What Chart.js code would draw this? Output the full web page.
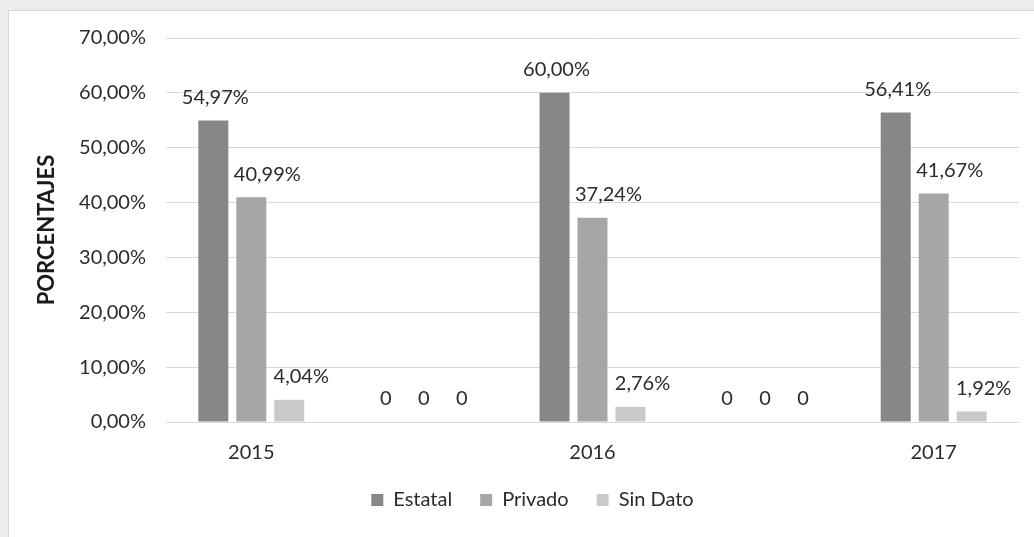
<!DOCTYPE html>
<html>
<head>
<meta charset="utf-8">
<script src="https://cdn.jsdelivr.net/npm/chart.js@4"></script>
<style>
  html, body { margin: 0; padding: 0; background: #eeeded; width: 1034px; height: 537px; overflow: hidden; }
  .card { position: absolute; left: 8px; top: 10px; width: 1025px; height: 526px; background: #fff;
          border-top: 1px solid #d6d6d6; border-left: 1px solid #d6d6d6; }
  canvas { position: absolute; left: 0; top: 0; }
</style>
</head>
<body>
<div class="card"><canvas id="chart" width="1025" height="526"></canvas></div>
<script>
const years = ['2015', '', '2016', '', '2017']
const estatal = [54.97, 0, 60.00, 0, 56.41]
const privado = [40.99, 0, 37.24, 0, 41.67]
const sinDato = [4.04, 0, 2.76, 0, 1.92]
const yTicks = [0, 10, 20, 30, 40, 50, 60, 70]

const textColor = '#2b2b2b'
const fontFamily = 'Lato'

const fmt = (v) => v.toFixed(2).replace('.', ',') + '%'

// labels above bars, Excel style (Privado / Sin Dato labels sit a bit to the right)
const labelShift = [2, 16, 12]
const barLabels = {
    id: 'barLabels',
    afterDatasetsDraw(chart) {
        const ctx = chart.ctx
        ctx.save()
        ctx.font = `20px ${fontFamily}`
        ctx.fillStyle = textColor
        ctx.textAlign = 'center'
        ctx.textBaseline = 'middle'
        chart.data.datasets.forEach((ds, i) => {
            chart.getDatasetMeta(i).data.forEach((bar, j) => {
                const v = ds.data[j]
                const txt = v === 0 ? '0' : fmt(v)
                const dx = v === 0 ? 2 : labelShift[i]
                ctx.fillText(txt, bar.x + dx, bar.y - 23)
            })
        })
        ctx.restore()
    }
}

new Chart(document.getElementById('chart'), {
    type: 'bar',
    data: {
        labels: years,
        datasets: [
            { label: 'Estatal', data: estatal, backgroundColor: '#878787' },
            { label: 'Privado', data: privado, backgroundColor: '#a6a6a6' },
            { label: 'Sin Dato', data: sinDato, backgroundColor: '#c9c9c9' },
        ],
    },
    options: {
        responsive: false,
        animation: false,
        categoryPercentage: 0.668,
        barPercentage: 0.79,
        layout: { padding: { left: 37, right: 15, top: 27, bottom: 17 } },
        plugins: {
            tooltip: { enabled: false },
            legend: {
                position: 'bottom',
                labels: {
                    color: textColor,
                    font: { family: fontFamily, size: 20 },
                    boxWidth: 12,
                    boxHeight: 12,
                    padding: 28,
                },
            },
        },
        scales: {
            y: {
                min: 0,
                max: 70,
                afterBuildTicks: (scale) => { scale.ticks = yTicks.map((v) => ({ value: v })) },
                afterFit: (scale) => {
                    scale.width = 120
                    scale.paddingTop = 0
                    scale.paddingBottom = 0
                },
                border: { display: false },
                grid: { color: '#d9d9d9', lineWidth: 1, drawTicks: false },
                ticks: {
                    color: textColor,
                    padding: 20,
                    font: { family: fontFamily, size: 20 },
                    callback: (v) => fmt(v),
                },
                title: {
                    display: true,
                    text: 'PORCENTAJES',
                    color: '#1a1a1a',
                    font: { family: fontFamily, size: 22, weight: 'bold', lineHeight: 1.2 },
                    padding: { top: -12, bottom: 0 },
                },
            },
            x: {
                afterFit: (scale) => { scale.height = 40 },
                border: { display: false },
                grid: { display: false, drawTicks: false },
                ticks: {
                    color: textColor,
                    padding: 19,
                    font: { family: fontFamily, size: 20 },
                },
            },
        },
    },
    plugins: [barLabels],
})
</script>
</body>
</html>
